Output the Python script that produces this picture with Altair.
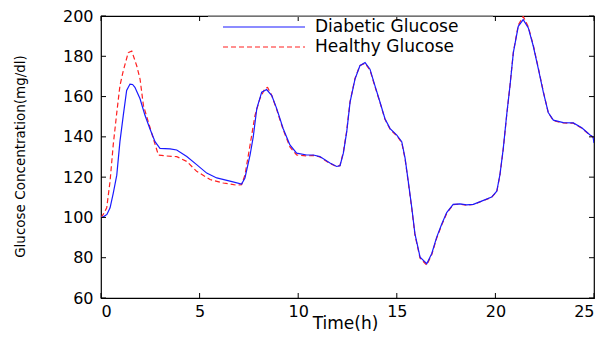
import altair as alt
import pandas as pd

# ---- data ----
series_names = ["Diabetic Glucose", "Healthy Glucose"]

t_diabetic = [0, 0.12, 0.3, 0.46, 0.62, 0.8, 0.96, 1.13, 1.3, 1.47, 1.6, 1.72, 1.98, 2.23, 2.48,
              2.74, 2.99, 3.5, 3.84, 4.35, 4.85, 5.36, 5.87, 6.54, 7.13, 7.3, 7.56, 7.72, 7.9, 8.15,
              8.4, 8.66, 8.91, 9.24, 9.58, 9.92, 10.43, 10.77, 11.1, 11.61, 11.95, 12.12, 12.29,
              12.46, 12.63, 12.88, 13.13, 13.39, 13.64, 13.89, 14.15, 14.4, 14.66, 15.0, 15.25,
              15.42, 15.58, 15.76, 15.92, 16.18, 16.52, 16.77, 17.02, 17.28, 17.53, 17.86, 18.2,
              18.54, 18.88, 19.3, 19.81, 20.07, 20.23, 20.4, 20.57, 20.74, 20.91, 21.16, 21.41,
              21.67, 21.92, 22.18, 22.43, 22.68, 22.94, 23.44, 23.95, 24.38, 24.8, 24.95, 25.0]
g_diabetic = [100, 100.3, 101.5, 104.8, 112, 121, 137.6, 150.7, 163, 166.2, 166, 164.6, 158.9,
              150.7, 144, 137.6, 134.3, 134, 133.5, 130.2, 126.2, 122, 119.6, 118, 116.6, 119.6,
              131, 140, 154, 162.2, 163.5, 160.5, 154, 144, 136, 131.9, 131, 131, 130.2, 127,
              125.3, 125.7, 131.9, 142.5, 157.2, 168.7, 175.3, 176.9, 173.6, 165.4, 157.2, 149,
              144.1, 140.9, 137.6, 129.4, 118, 104.8, 91.8, 80.3, 77, 82, 90.1, 96.7, 102.4,
              106.5, 106.7, 106.2, 106.5, 108.1, 110.1, 113, 121.2, 134.3, 150.7, 165.4, 181.8,
              194.9, 198.2, 194.1, 185.1, 173.6, 162.2, 152.1, 148.3, 147.1, 146.9, 144.5, 140.9,
              140, 137]

t_healthy = [0, 0.12, 0.29, 0.46, 0.62, 0.8, 0.96, 1.13, 1.38, 1.56, 1.81, 1.98, 2.15, 2.4, 2.65,
             2.91, 3.33, 3.84, 4.35, 4.85, 5.53, 6.2, 6.88, 7.13, 7.3, 7.56, 7.81, 8.06, 8.32,
             8.45, 8.66, 8.91, 9.24, 9.58, 9.92, 10.43, 10.77, 11.1, 11.61, 11.95, 12.12, 12.29,
             12.46, 12.63, 12.88, 13.13, 13.39, 13.64, 13.89, 14.15, 14.4, 14.66, 15.0, 15.25,
             15.42, 15.58, 15.76, 15.92, 16.18, 16.52, 16.77, 17.02, 17.28, 17.53, 17.86, 18.2,
             18.54, 18.88, 19.3, 19.81, 20.07, 20.23, 20.4, 20.57, 20.74, 20.91, 21.16, 21.41,
             21.67, 21.92, 22.18, 22.43, 22.68, 22.94, 23.44, 23.95, 24.38, 24.8, 25.0]
g_healthy = [100, 101.6, 104.8, 118, 136, 152, 165.4, 172.8, 181.8, 182.6, 175.3, 168.7, 155.6,
             147.4, 139.2, 131, 130.5, 130.2, 127.8, 122.9, 118.8, 117.1, 116, 116.3, 121, 136,
             150.7, 159, 164.1, 164.5, 160.5, 153.5, 143.5, 135, 131, 130.5, 130.8, 130, 126.8,
             125.2, 125.8, 132.5, 143, 157.5, 169, 175.5, 176.5, 173.2, 165, 157, 148.7, 143.8,
             140.5, 137.2, 129, 117.5, 104.3, 91.3, 79.8, 76.3, 81.5, 89.6, 96.3, 102, 106.3,
             106.6, 106, 106.4, 108, 110, 112.8, 121, 134, 150.5, 165.5, 182, 195.5, 199.8,
             194.6, 185.5, 174, 162.5, 152, 148, 146.9, 146.8, 144.3, 140.8, 139.5]

x_ticks = [0, 5, 10, 15, 20, 25]
y_ticks = [60, 80, 100, 120, 140, 160, 180, 200]

W, H = 493, 282
FONT = "DejaVu Sans"

df_d = pd.DataFrame({"t": t_diabetic, "g": g_diabetic})
df_h = pd.DataFrame({"t": t_healthy, "g": g_healthy})
df_xt = pd.DataFrame({"t": x_ticks})
df_yt = pd.DataFrame({"g": y_ticks})

xs = alt.Scale(domain=[0, 25], nice=False, zero=False)
ys = alt.Scale(domain=[60, 200], nice=False, zero=False)

x_axis = alt.Axis(values=x_ticks, ticks=False, grid=False, domain=False,
                  labelFontSize=16, labelFont=FONT, labelPadding=5, labelColor="black",
                  title="Time(h)", titleFont=FONT, titleFontSize=17, titleFontWeight="normal",
                  titleColor="black", titleX=244, titleY=17, titleBaseline="top",
                  titleAnchor="middle", titleAlign="center")
y_axis = alt.Axis(values=y_ticks, ticks=False, grid=False, domain=False,
                  labelFontSize=16, labelFont=FONT, labelPadding=8, labelColor="black",
                  title="Glucose Concentration(mg/dl)", titleFont=FONT, titleFontSize=13.5,
                  titleFontWeight="normal", titleColor="black", titleAngle=-90,
                  titleX=-81, titleY=140, titleAlign="center", titleBaseline="middle")

X = alt.X("t:Q", scale=xs, axis=x_axis)
Y = alt.Y("g:Q", scale=ys, axis=y_axis)

healthy = alt.Chart(df_h).mark_line(color="#ff2020", strokeWidth=1.2,
                                    strokeDash=[5, 3], clip=True).encode(x=X, y=Y)
diabetic = alt.Chart(df_d).mark_line(color="#1a1aff", strokeWidth=1.2,
                                     clip=True).encode(x=X, y=Y)

# inward ticks on all four sides
tick_bottom = alt.Chart(df_xt).mark_rule(color="black").encode(
    x=X, y=alt.value(H), y2=alt.value(H - 5))
tick_top = alt.Chart(df_xt).mark_rule(color="black").encode(
    x=X, y=alt.value(0), y2=alt.value(5))
tick_left = alt.Chart(df_yt).mark_rule(color="black").encode(
    y=Y, x=alt.value(0), x2=alt.value(5))
tick_right = alt.Chart(df_yt).mark_rule(color="black").encode(
    y=Y, x=alt.value(W), x2=alt.value(W - 5))

# legend (drawn by hand, as in the reference)
legend_top = alt.Chart(alt.Data(values=[{"s": 1}])).mark_rule(
    color="#9a9a9a", strokeWidth=1.5).encode(x=alt.value(107), x2=alt.value(392),
                                             y=alt.value(0))
leg_d_line = alt.Chart(alt.Data(values=[{"s": series_names[0]}])).mark_rule(
    color="#1a1aff", strokeWidth=1.2).encode(x=alt.value(122), x2=alt.value(204), y=alt.value(11))
leg_h_line = alt.Chart(alt.Data(values=[{"s": series_names[1]}])).mark_rule(
    color="#ff2020", strokeWidth=1.2, strokeDash=[5, 3]).encode(
    x=alt.value(122), x2=alt.value(204), y=alt.value(31))
leg_d_text = alt.Chart(alt.Data(values=[{"s": series_names[0]}])).mark_text(
    align="left", baseline="middle", font=FONT, fontSize=17, color="black").encode(
    x=alt.value(214), y=alt.value(11), text="s:N")
leg_h_text = alt.Chart(alt.Data(values=[{"s": series_names[1]}])).mark_text(
    align="left", baseline="middle", font=FONT, fontSize=17, color="black").encode(
    x=alt.value(214), y=alt.value(31), text="s:N")

chart = alt.layer(
    healthy, diabetic, tick_bottom, tick_top, tick_left, tick_right,
    legend_top, leg_d_line, leg_h_line, leg_d_text, leg_h_text
).properties(
    width=W, height=H,
    autosize=alt.AutoSizeParams(type="none"),
    padding={"left": 93, "top": 8, "right": 5, "bottom": 39},
    background="white",
).configure_view(stroke="black", strokeWidth=1.2)

chart.save("out.html", embed_options={"renderer": "svg", "actions": False})
